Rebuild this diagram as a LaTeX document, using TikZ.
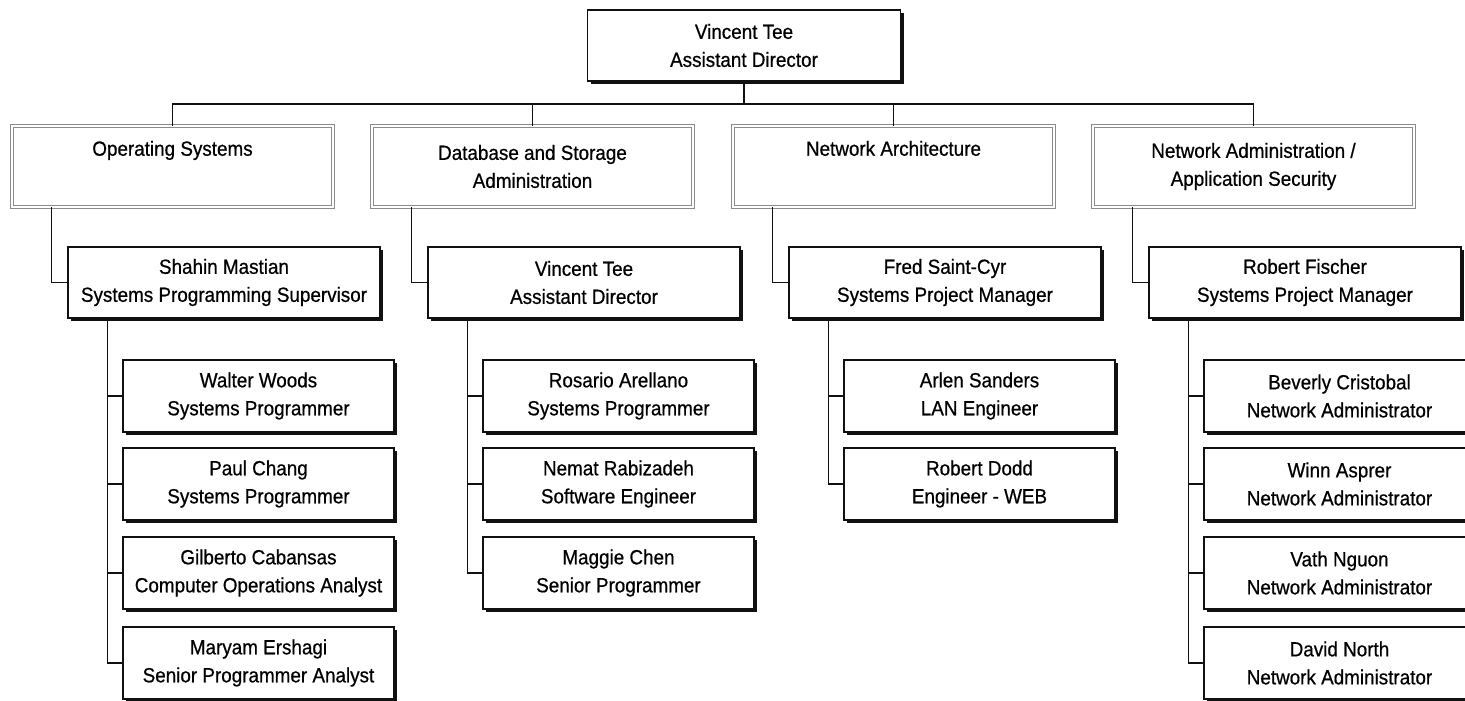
\documentclass[tikz,border=0pt]{standalone}
\usepackage{fontspec}
\setmainfont{Liberation Sans}
\newfontfamily\chartface{Liberation Sans}[FakeBold=0.6, FakeStretch=0.92]
\usetikzlibrary{calc, positioning, shadows}
\definecolor{InkBlack}{HTML}{111111}
\definecolor{FrameGrey}{HTML}{8C8C8C}
\tikzset{
    chartfont/.style={font=\chartface\fontsize{20.5}{28}\selectfont},
    staffbox/.style={draw=InkBlack, line width=1.5pt, fill=white, chartfont, align=center, inner xsep=2pt,
        drop shadow={shadow xshift=3pt, shadow yshift=-3pt, fill=InkBlack, opacity=1}},
    headbox/.style={staffbox, minimum width=313pt, minimum height=71pt},
    leadbox/.style={staffbox, minimum width=312pt, minimum height=71pt},
    memberbox/.style={staffbox, minimum width=271pt, minimum height=72pt},
    unitbox/.style={draw=FrameGrey, line width=0.9pt, double=white, double distance=1.6pt, fill=white,
        chartfont, align=center, minimum width=321pt, minimum height=81pt,
        drop shadow={shadow xshift=1.5pt, shadow yshift=-1.5pt, fill=FrameGrey, opacity=1}},
    link/.style={draw=InkBlack, line width=1.3pt}
}

\begin{document}
\begin{tikzpicture}[x=1pt, y=-1pt]
    \clip (0,0) rectangle (1465,701);

    % Director
    \node[headbox] (director) at (744,45.5) {Vincent Tee\\Assistant Director};
    \coordinate (bus) at (744,104);

    % Sections
    \node[unitbox] (opsys) at (172.5,166.5) {Operating Systems\\ \strut};
    \node[unitbox] (dbadm) at (532.5,166.5) {Database and Storage\\Administration};
    \node[unitbox] (netarch) at (893.5,166.5) {Network Architecture\\ \strut};
    \node[unitbox] (netadm) at (1253.5,166.5) {Network Administration /\\Application Security};

    % Section leads
    \node[leadbox] (shahin) at (224,282.5) {Shahin Mastian\\Systems Programming Supervisor};
    \node[leadbox] (vincent) at (584,282.5) {Vincent Tee\\Assistant Director};
    \node[leadbox] (fred) at (945,282.5) {Fred Saint-Cyr\\Systems Project Manager};
    \node[leadbox] (fischer) at (1305,282.5) {Robert Fischer\\Systems Project Manager};

    % Operating Systems staff
    \node[memberbox] (walter) at (258.5,396) {Walter Woods\\Systems Programmer};
    \node[memberbox] (paul) at (258.5,484) {Paul Chang\\Systems Programmer};
    \node[memberbox] (gilberto) at (258.5,573) {Gilberto Cabansas\\Computer Operations Analyst};
    \node[memberbox] (maryam) at (258.5,663) {Maryam Ershagi\\Senior Programmer Analyst};

    % Database staff
    \node[memberbox] (rosario) at (618.5,396) {Rosario Arellano\\Systems Programmer};
    \node[memberbox] (nemat) at (618.5,484) {Nemat Rabizadeh\\Software Engineer};
    \node[memberbox] (maggie) at (618.5,573) {Maggie Chen\\Senior Programmer};

    % Network Architecture staff
    \node[memberbox] (arlen) at (979.5,396) {Arlen Sanders\\LAN Engineer};
    \node[memberbox] (dodd) at (979.5,484) {Robert Dodd\\Engineer - WEB};

    % Network Administration staff
    \node[memberbox] (beverly) at (1339.5,396) {Beverly Cristobal\\Network Administrator};
    \node[memberbox] (winn) at (1339.5,484) {Winn Asprer\\Network Administrator};
    \node[memberbox] (vath) at (1339.5,573) {Vath Nguon\\Network Administrator};
    \node[memberbox] (north) at (1339.5,663) {David North\\Network Administrator};

    % Connectors
    \draw[link] (director.south) -- (bus);
    \draw[link] (opsys.north) |- (bus);
    \draw[link] (dbadm.north) |- (bus);
    \draw[link] (netarch.north) |- (bus);
    \draw[link] (netadm.north) |- (bus);

    \draw[link] ([xshift=40pt]opsys.south west) |- (shahin.west);
    \draw[link] ([xshift=40pt]dbadm.south west) |- (vincent.west);
    \draw[link] ([xshift=40pt]netarch.south west) |- (fred.west);
    \draw[link] ([xshift=40pt]netadm.south west) |- (fischer.west);

    \draw[link] ([xshift=40pt]shahin.south west) |- (walter.west);
    \draw[link] ([xshift=40pt]shahin.south west) |- (paul.west);
    \draw[link] ([xshift=40pt]shahin.south west) |- (gilberto.west);
    \draw[link] ([xshift=40pt]shahin.south west) |- (maryam.west);

    \draw[link] ([xshift=40pt]vincent.south west) |- (rosario.west);
    \draw[link] ([xshift=40pt]vincent.south west) |- (nemat.west);
    \draw[link] ([xshift=40pt]vincent.south west) |- (maggie.west);

    \draw[link] ([xshift=40pt]fred.south west) |- (arlen.west);
    \draw[link] ([xshift=40pt]fred.south west) |- (dodd.west);

    \draw[link] ([xshift=40pt]fischer.south west) |- (beverly.west);
    \draw[link] ([xshift=40pt]fischer.south west) |- (winn.west);
    \draw[link] ([xshift=40pt]fischer.south west) |- (vath.west);
    \draw[link] ([xshift=40pt]fischer.south west) |- (north.west);
\end{tikzpicture}
\end{document}
